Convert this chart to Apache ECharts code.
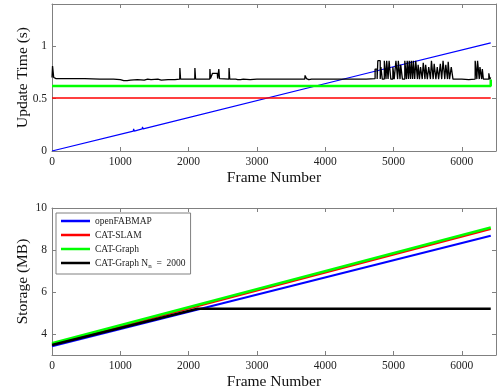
<!DOCTYPE html>
<html>
<head>
<meta charset="utf-8">
<script src="https://cdn.jsdelivr.net/npm/echarts@6/dist/echarts.min.js"></script>
<style>
  html, body { margin: 0; padding: 0; background: #fff; }
  #chart { width: 501px; height: 392px; }
</style>
</head>
<body>
<div id="chart"></div>
<script>
// Datos
const frameTicks = [0, 1000, 2000, 3000, 4000, 5000, 6000];
const updateTicks = [0, 0.5, 1];
const storageTicks = [4, 6, 8, 10];

// Gráfica superior: tiempo de actualización (s)
const openFabmapTime = [[0, 0], [1190, 0.19], [1195, 0.21], [1205, 0.19], [1320, 0.21], [1325, 0.23], [1335, 0.21], [4700, 0.755], [6423, 1.03]];
const catSlamTime = [[0, 0.505], [6423, 0.505]];
const catGraphTime = [[0, 0.62], [6423, 0.62], [6423, 0.68]];
const catGraphNnTime = [
    [0, 0.70], [8, 0.81], [25, 0.70], [60, 0.69], [200, 0.69], [220, 0.70], [250, 0.69], [440, 0.69], [460, 0.70], [480, 0.69],
    [700, 0.685], [900, 0.685], [1000, 0.68], [1050, 0.67], [1100, 0.67], [1150, 0.675], [1250, 0.68], [1350, 0.675],
    [1400, 0.685], [1450, 0.68], [1550, 0.685], [1600, 0.675], [1700, 0.68], [1800, 0.68],
    [1870, 0.685], [1872, 0.79], [1880, 0.79], [1882, 0.685], [2090, 0.685], [2092, 0.79], [2100, 0.79], [2102, 0.685],
    [2310, 0.685], [2312, 0.78], [2318, 0.78], [2320, 0.69], [2345, 0.69], [2350, 0.74], [2420, 0.74], [2425, 0.69],
    [2440, 0.69], [2442, 0.78], [2450, 0.78], [2452, 0.69], [2590, 0.685], [2592, 0.79], [2600, 0.79], [2602, 0.685],
    [2690, 0.685], [2700, 0.70], [2720, 0.68], [2760, 0.68], [2800, 0.685], [2900, 0.68], [3000, 0.685], [3300, 0.685],
    [3700, 0.685], [3705, 0.72], [3720, 0.72], [3725, 0.69], [3760, 0.68], [3800, 0.685], [4200, 0.685], [4600, 0.685],
    [4730, 0.69], [4730, 0.78], [4760, 0.78], [4760, 0.685], [4770, 0.685], [4770, 0.86], [4805, 0.86], [4805, 0.685],
    [4815, 0.685], [4815, 0.80], [4835, 0.80], [4835, 0.685], [4865, 0.685], [4865, 0.86], [4890, 0.86], [4890, 0.685],
    [4900, 0.685], [4900, 0.86], [4920, 0.86], [4920, 0.685], [4935, 0.685], [4935, 0.86], [4960, 0.86], [4960, 0.685],
    [4990, 0.685], [4990, 0.80], [5010, 0.80], [5010, 0.685], [5035, 0.685], [5035, 0.86], [5060, 0.86], [5060, 0.685],
    [5070, 0.685], [5070, 0.86], [5095, 0.86], [5095, 0.685], [5105, 0.685], [5105, 0.82], [5130, 0.82], [5130, 0.685],
    [5165, 0.685], [5165, 0.86], [5190, 0.86], [5190, 0.685], [5200, 0.685], [5200, 0.86], [5220, 0.86], [5220, 0.685],
    [5230, 0.685], [5230, 0.86], [5250, 0.86], [5250, 0.685], [5260, 0.685], [5260, 0.86], [5280, 0.86], [5280, 0.685],
    [5290, 0.685], [5290, 0.86], [5310, 0.86], [5310, 0.685], [5325, 0.685], [5325, 0.86], [5350, 0.86], [5350, 0.685],
    [5360, 0.685], [5360, 0.82], [5380, 0.82], [5380, 0.685], [5395, 0.685], [5395, 0.80], [5420, 0.80], [5420, 0.685],
    [5435, 0.685], [5435, 0.84], [5460, 0.84], [5460, 0.685], [5470, 0.685], [5470, 0.82], [5495, 0.82], [5495, 0.685],
    [5515, 0.685], [5515, 0.80], [5540, 0.80], [5540, 0.685], [5555, 0.685], [5555, 0.86], [5580, 0.86], [5580, 0.685],
    [5595, 0.685], [5595, 0.83], [5620, 0.83], [5620, 0.685], [5640, 0.685], [5640, 0.80], [5660, 0.80], [5660, 0.685],
    [5685, 0.685], [5685, 0.83], [5705, 0.83], [5705, 0.685], [5725, 0.685], [5725, 0.86], [5750, 0.86], [5750, 0.685],
    [5765, 0.685], [5765, 0.82], [5790, 0.82], [5790, 0.685], [5800, 0.685], [5800, 0.85], [5820, 0.85], [5820, 0.685],
    [5845, 0.685], [5845, 0.80], [5870, 0.80], [5870, 0.685], [6000, 0.685], [6100, 0.68],
    [6195, 0.685], [6195, 0.86], [6220, 0.86], [6220, 0.685], [6230, 0.685], [6230, 0.86], [6255, 0.86], [6255, 0.685],
    [6265, 0.685], [6265, 0.80], [6290, 0.80], [6290, 0.685], [6300, 0.685], [6300, 0.78], [6315, 0.78], [6315, 0.685],
    [6395, 0.685], [6395, 0.74], [6410, 0.74], [6410, 0.685], [6423, 0.70]
];

// Gráfica inferior: almacenamiento (MB)
const openFabmapStorage = [[0, 3.42], [6423, 8.68]];
const catSlamStorage = [[0, 3.50], [6423, 9.00]];
const catGraphStorage = [[0, 3.56], [6423, 9.07]];
const catGraphNnStorage = [[0, 3.48], [2130, 5.20], [6423, 5.20]];

const serif = 'Liberation Serif';
const axisGrey = '#808080';

const myChart = echarts.init(document.getElementById('chart'));

function ejeX(gridIndex, position, show) {
    return {
        type: 'value', gridIndex: gridIndex, position: position, min: 0, max: 6500,
        name: show ? 'Frame Number' : '', nameLocation: 'middle', nameGap: 19, nameMoveOverlap: false,
        nameTextStyle: { fontFamily: serif, fontSize: 15.5, color: '#111' },
        axisLine: { show: true, onZero: false, lineStyle: { color: axisGrey, width: 1 } },
        axisTick: { show: true, inside: true, length: 4, customValues: frameTicks, lineStyle: { color: axisGrey } },
        axisLabel: {
            show: show, customValues: frameTicks, fontFamily: serif, fontSize: 11.5, color: '#222', margin: 5,
            formatter: function (value) { return String(value); }
        },
        splitLine: { show: false }
    };
}

function ejeY(gridIndex, position, min, max, ticks, name) {
    return {
        type: 'value', gridIndex: gridIndex, position: position, min: min, max: max,
        name: name, nameLocation: 'middle', nameGap: 21, nameMoveOverlap: false,
        nameTextStyle: { fontFamily: serif, fontSize: 15.5, color: '#111' },
        axisLine: { show: true, onZero: false, lineStyle: { color: axisGrey, width: 1 } },
        axisTick: { show: true, inside: true, length: 4, customValues: ticks, lineStyle: { color: axisGrey } },
        axisLabel: {
            show: name !== '', customValues: ticks, fontFamily: serif, fontSize: 11.5, color: '#222', margin: 5,
            formatter: function (value) { return String(value); }
        },
        splitLine: { show: false }
    };
}

function linea(name, data, color, width, xi, yi) {
    return {
        name: name, type: 'line', data: data, xAxisIndex: xi, yAxisIndex: yi,
        showSymbol: false, symbol: 'none', animation: false,
        lineStyle: { color: color, width: width },
        itemStyle: { color: color }
    };
}

const option = {
    animation: false,
    grid: [
        { left: 52, right: 5, top: 4, height: 147, containLabel: false, outerBoundsMode: 'none' },
        { left: 52, right: 5, top: 208, height: 147, containLabel: false, outerBoundsMode: 'none' }
    ],
    legend: {
        data: ['openFABMAP', 'CAT-SLAM', 'CAT-Graph', 'CAT-Graph Nn'],
        orient: 'vertical', left: 56, top: 213,
        itemWidth: 29, itemHeight: 2.5, itemGap: 0,
        padding: [1, 5, 4, 5],
        backgroundColor: '#fff', borderColor: axisGrey, borderWidth: 1,
        icon: 'rect',
        textStyle: {
            fontFamily: serif, fontSize: 9.5, color: '#222', lineHeight: 14,
            rich: { sub: { fontFamily: serif, fontSize: 7, color: '#222', lineHeight: 14, padding: [6, 0, 0, 0] } }
        },
        formatter: function (name) {
            if (name === 'CAT-Graph Nn') {
                return 'CAT-Graph N{sub|n}  =  2000';
            }
            return name;
        }
    },
    xAxis: [ejeX(0, 'bottom', true), ejeX(0, 'top', false), ejeX(1, 'bottom', true), ejeX(1, 'top', false)],
    yAxis: [
        ejeY(0, 'left', 0, 1.4, updateTicks, 'Update Time (s)'),
        ejeY(0, 'right', 0, 1.4, updateTicks, ''),
        ejeY(1, 'left', 3, 10, storageTicks, 'Storage (MB)'),
        ejeY(1, 'right', 3, 10, storageTicks, '')
    ],
    series: [
        linea('openFABMAP', openFabmapTime, '#0000ff', 1.2, 0, 0),
        linea('CAT-SLAM', catSlamTime, '#ff0000', 1.5, 0, 0),
        linea('CAT-Graph', catGraphTime, '#00ff00', 2.5, 0, 0),
        linea('CAT-Graph Nn', catGraphNnTime, '#000000', 1.3, 0, 0),
        linea('openFABMAP', openFabmapStorage, '#0000ff', 2, 2, 2),
        linea('CAT-SLAM', catSlamStorage, '#ff0000', 2, 2, 2),
        linea('CAT-Graph', catGraphStorage, '#00ff00', 2.5, 2, 2),
        linea('CAT-Graph Nn', catGraphNnStorage, '#000000', 2.5, 2, 2)
    ]
};

myChart.setOption(option);
</script>
</body>
</html>
